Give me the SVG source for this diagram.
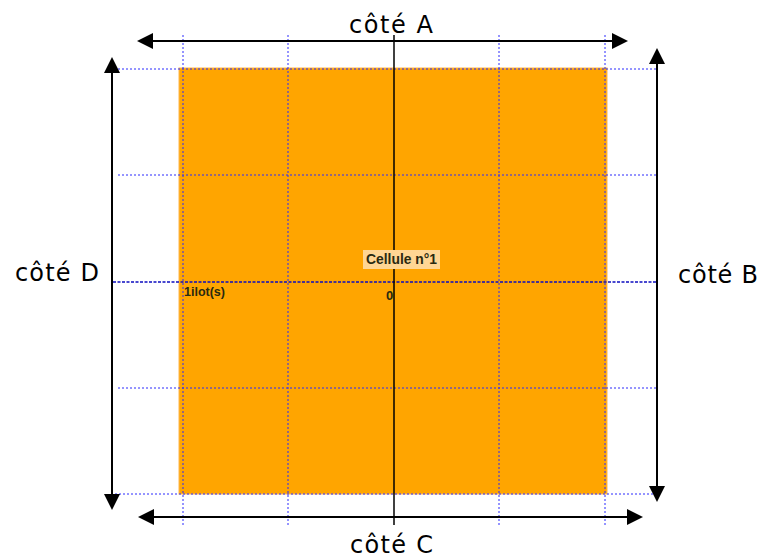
<svg xmlns="http://www.w3.org/2000/svg" width="763" height="558" viewBox="0 0 763 558">
<style>
.grid{stroke:#2a2aff;stroke-width:1;stroke-dasharray:2,2;fill:none}
.mid{stroke:#0c0cc0;stroke-width:1.6;stroke-dasharray:3,1.5;fill:none}
.arr{stroke:#000;stroke-width:2;fill:none}
.head{fill:#000}
.side{font-family:"DejaVu Sans",Verdana,sans-serif;font-size:24px;fill:#000}
.lbl{font-family:"Liberation Sans",Arial,sans-serif;font-weight:bold;fill:#2a2a10}
</style>
<rect width="763" height="558" fill="#fff"/>
<g id="cell">
<rect x="179" y="68" width="428" height="426" fill="#FFA500" stroke="#FFB84D" stroke-width="1"/>
</g>
<g id="grid">
<line class="grid" x1="183" y1="35" x2="183" y2="525"/>
<line class="grid" x1="288" y1="35" x2="288" y2="525"/>
<line class="grid" x1="499" y1="35" x2="499" y2="525"/>
<line class="grid" x1="605" y1="35" x2="605" y2="525"/>
<line class="grid" x1="118" y1="69" x2="657" y2="69"/>
<line class="grid" x1="118" y1="175" x2="657" y2="175"/>
<line class="grid" x1="118" y1="388" x2="657" y2="388"/>
<line class="grid" x1="115" y1="494" x2="655" y2="494"/>
<line class="mid" x1="113" y1="282" x2="656" y2="282"/>
<line x1="394" y1="35" x2="394" y2="525" stroke="#000" stroke-width="1.5"/>
</g>
<g id="connectors">
<line class="arr" x1="150" y1="41" x2="615" y2="41"/>
<polygon class="head" points="137,41 153,33 153,49"/>
<polygon class="head" points="628,41 612,33 612,49"/>
<line class="arr" x1="151" y1="517" x2="630" y2="517"/>
<polygon class="head" points="138,517 154,509 154,525"/>
<polygon class="head" points="643,517 627,509 627,525"/>
<line class="arr" x1="112" y1="70" x2="112" y2="497"/>
<polygon class="head" points="112,57 104,73 120,73"/>
<polygon class="head" points="112,510 104,494 120,494"/>
<line class="arr" x1="657" y1="61" x2="657" y2="489"/>
<polygon class="head" points="657,48 649,64 665,64"/>
<polygon class="head" points="657,502 649,486 665,486"/>
</g>
<g id="sideA"><text class="side" x="349" y="33" textLength="84" lengthAdjust="spacing">côté A</text></g>
<g id="sideB"><text class="side" x="678" y="283" textLength="80" lengthAdjust="spacing">côté B</text></g>
<g id="sideC"><text class="side" x="350" y="553" textLength="83" lengthAdjust="spacing">côté C</text></g>
<g id="sideD"><text class="side" x="15" y="281" textLength="84" lengthAdjust="spacing">côté D</text></g>
<g id="label">
<rect x="363" y="250" width="77" height="19" fill="#FFD694"/>
<text class="lbl" x="366" y="264" font-size="14" textLength="71" lengthAdjust="spacingAndGlyphs">Cellule n°1</text>
<text class="lbl" x="184" y="296" font-size="12" textLength="41" lengthAdjust="spacingAndGlyphs">1ilot(s)</text>
<text class="lbl" x="386" y="300" font-size="13">0</text>
</g>
</svg>
